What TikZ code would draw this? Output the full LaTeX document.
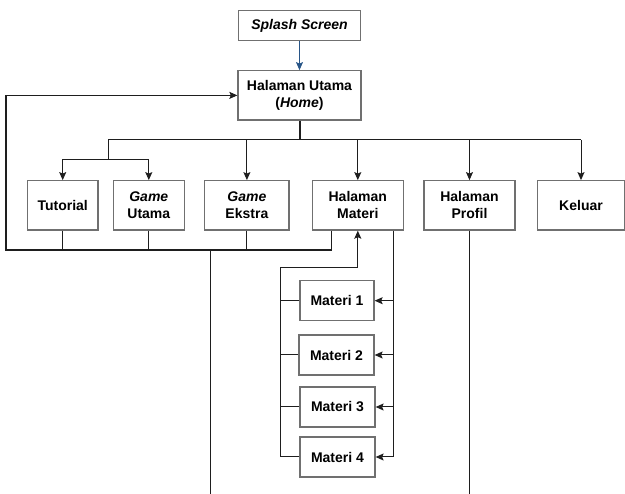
\documentclass[tikz,border=0pt]{standalone}
\usepackage{fontspec}
\setmainfont{Liberation Sans}
\usetikzlibrary{arrows.meta}
\definecolor{boxline}{RGB}{112,112,112}
\definecolor{conn}{RGB}{30,30,30}
\definecolor{bluearr}{RGB}{40,85,135}
\tikzset{
  box/.style={draw=boxline, line width=1.3pt, fill=white, inner sep=0pt, align=center,
    font=\fontsize{14}{17}\selectfont\bfseries, text=black},
  conline/.style={draw=conn, line width=1pt},
  arr/.style={conline, -{Stealth[length=8pt,width=7pt,inset=1.5pt]}},
}
\begin{document}
\begin{tikzpicture}[x=1pt,y=-1pt]
\useasboundingbox (0,0) rectangle (625,494);
% boxes
\node[box, minimum width=122.5pt, minimum height=30pt] (splash) at (299.5,25.7) {\itshape Splash Screen};
\node[box, minimum width=123pt, minimum height=49.3pt] (home) at (299.5,95.4) {Halaman Utama\\(\textit{Home})};
\node[box, minimum width=70.7pt, minimum height=49.3pt] (tut) at (62.7,205.4) {Tutorial};
\node[box, minimum width=71pt, minimum height=49.3pt] (gu) at (148.8,205.4) {\textit{Game}\\Utama};
\node[box, minimum width=84.3pt, minimum height=49.3pt] (ge) at (246.9,205.4) {\textit{Game}\\Ekstra};
\node[box, minimum width=91pt, minimum height=49.3pt] (hm) at (357.8,205.4) {Halaman\\Materi};
\node[box, minimum width=91pt, minimum height=49.3pt] (hp) at (469.5,205.4) {Halaman\\Profil};
\node[box, minimum width=87pt, minimum height=49.3pt] (kel) at (581,205.4) {Keluar};
\node[box, minimum width=74pt, minimum height=40pt] (m1) at (337,300.7) {Materi 1};
\node[box, minimum width=75pt, minimum height=40pt] (m2) at (336.5,355) {Materi 2};
\node[box, minimum width=75pt, minimum height=40pt] (m3) at (337.5,407) {Materi 3};
\node[box, minimum width=75pt, minimum height=40pt] (m4) at (337.5,457) {Materi 4};
% coordinates
\coordinate (b0) at (299.5,140);
\coordinate (bL) at (108.3,140);
\coordinate (bR) at (581,140);
\coordinate (s1) at (108.3,160);
\coordinate (r0) at (6,250);
\coordinate (rM) at (331.7,250);
\coordinate (d1) at (210,250);
\coordinate (d1e) at (210,496);
\coordinate (ml) at (280,267.5);
\coordinate (mr) at (393.3,0);
% splash -> home
\draw[draw=bluearr, line width=1pt, -{Stealth[length=8pt,width=7pt,inset=1.5pt]}] (splash.south) -- (home.north);
% home -> bus
\draw[conline, line width=2pt] (home.south) -- (b0);
\draw[conline] (bL) -- (bR);
\draw[conline] (bL) -- (s1);
\draw[arr] (s1) -| (tut.north);
\draw[arr] (s1) -| (gu.north);
\draw[arr] (ge.north |- b0) -- (ge.north);
\draw[arr] (hm.north |- b0) -- (hm.north);
\draw[arr] (hp.north |- b0) -- (hp.north);
\draw[arr] (kel.north |- b0) -- (kel.north);
% return to home
\draw[arr, line width=1.1pt] (rM |- hm.south) -- (rM) -- (r0) |- (home.west);
\draw[conline] (tut.south) -- (tut.south |- r0);
\draw[conline] (gu.south) -- (gu.south |- r0);
\draw[conline] (ge.south) -- (ge.south |- r0);
\draw[conline] (d1) -- (d1e);
\draw[conline] (hp.south) -- (hp.south |- d1e);
% materi loop
\draw[arr] (m4.west) -- (m4.west -| ml) -- (ml) -| (hm.south);
\draw[conline] (m1.west) -- (m1.west -| ml);
\draw[conline] (m2.west) -- (m2.west -| ml);
\draw[conline] (m3.west) -- (m3.west -| ml);
\draw[arr] (hm.south -| mr) |- (m4.east);
\draw[arr] (m1.east -| mr) -- (m1.east);
\draw[arr] (m2.east -| mr) -- (m2.east);
\draw[arr] (m3.east -| mr) -- (m3.east);
\end{tikzpicture}
\end{document}
